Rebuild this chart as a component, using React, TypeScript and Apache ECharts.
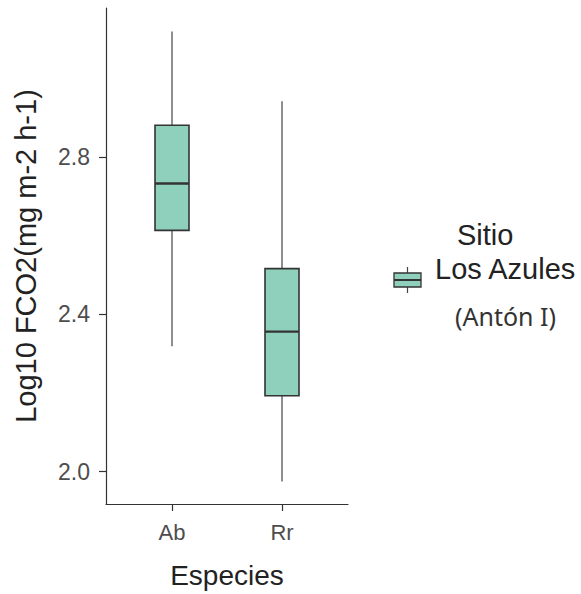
import React, { useEffect, useRef } from "react";
import * as echarts from "echarts";

const categories = ["Ab", "Rr"];
const categoryPositions = [1, 2];
const whiskerLow = [2.319, 1.975];
const q1 = [2.613, 2.193];
const medians = [2.732, 2.356];
const q3 = [2.88, 2.516];
const whiskerHigh = [3.118, 2.941];
const yTicks = [2.0, 2.4, 2.8];
const seriesName = "Los Azules";
const legendTitle = "Sitio";
const legendSubtitle = "(Antón I)";
const xTitle = "Especies";
const yTitle = "Log10 FCO2(mg m-2 h-1)";

const FONT = "'Liberation Sans', Arial, sans-serif";
const FILL = "#8ED0BB";
const DARK = "#333333";

export default function App() {
  const ref = useRef<HTMLDivElement>(null);
  useEffect(() => {
    const chart = echarts.init(ref.current!, null, { renderer: "svg" });
    const data = categoryPositions.map((x, i) => [
      x,
      whiskerLow[i],
      q1[i],
      medians[i],
      q3[i],
      whiskerHigh[i],
    ]);
    chart.setOption({
      animation: false,
      grid: { left: 106, right: 233, top: 8, bottom: 88, containLabel: false },
      xAxis: {
        type: "value",
        min: 0.4,
        max: 2.6,
        name: xTitle,
        nameLocation: "middle",
        nameGap: 57,
        nameTextStyle: { fontSize: 28, color: "#222", fontFamily: FONT },
        axisLine: { show: true, onZero: false, lineStyle: { color: DARK, width: 1.2 } },
        axisTick: {
          show: true,
          customValues: categoryPositions,
          length: 7,
          lineStyle: { color: DARK, width: 1.2 },
        },
        axisLabel: {
          customValues: categoryPositions,
          formatter: (v: number) => categories[Math.round(v) - 1] ?? "",
          fontSize: 22,
          color: "#4d4d4d",
          fontFamily: FONT,
          margin: 17,
        },
        splitLine: { show: false },
      },
      yAxis: {
        type: "value",
        min: 1.918,
        max: 3.178,
        name: yTitle,
        nameLocation: "middle",
        nameGap: 66,
        nameTextStyle: { fontSize: 29, color: "#222", fontFamily: FONT },
        axisLine: { show: true, onZero: false, lineStyle: { color: DARK, width: 1.2 } },
        axisTick: {
          show: true,
          customValues: yTicks,
          length: 7,
          lineStyle: { color: DARK, width: 1.2 },
        },
        axisLabel: {
          customValues: yTicks,
          formatter: (v: number) => v.toFixed(1),
          fontSize: 23,
          color: "#4d4d4d",
          fontFamily: FONT,
          margin: 16,
        },
        splitLine: { show: false },
      },
      series: [
        {
          name: seriesName,
          type: "custom",
          data,
          encode: { x: 0, y: [1, 2, 3, 4, 5] },
          renderItem: (params: any, api: any) => {
            const x = api.value(0);
            const lo = api.coord([x, api.value(1)]);
            const b1 = api.coord([x, api.value(2)]);
            const md = api.coord([x, api.value(3)]);
            const b3 = api.coord([x, api.value(4)]);
            const hi = api.coord([x, api.value(5)]);
            const c = lo[0];
            const hw = 17;
            return {
              type: "group",
              children: [
                {
                  type: "line",
                  shape: { x1: c, y1: lo[1], x2: c, y2: b1[1] },
                  style: { stroke: "#444", lineWidth: 1.2 },
                },
                {
                  type: "line",
                  shape: { x1: c, y1: b3[1], x2: c, y2: hi[1] },
                  style: { stroke: "#444", lineWidth: 1.2 },
                },
                {
                  type: "rect",
                  shape: { x: c - hw, y: b3[1], width: hw * 2, height: b1[1] - b3[1] },
                  style: { fill: FILL, stroke: DARK, lineWidth: 1.6 },
                },
                {
                  type: "line",
                  shape: { x1: c - hw, y1: md[1], x2: c + hw, y2: md[1] },
                  style: { stroke: DARK, lineWidth: 2.4 },
                },
              ],
            };
          },
        },
      ],
      graphic: [
        {
          type: "text",
          left: 457,
          top: 237 - 16.5,
          style: { text: legendTitle, fontSize: 29, fill: "#222", fontFamily: FONT },
        },
        {
          type: "line",
          shape: { x1: 407.5, y1: 267, x2: 407.5, y2: 293 },
          style: { stroke: "#444", lineWidth: 1.2 },
        },
        {
          type: "rect",
          shape: { x: 394, y: 273, width: 27, height: 14 },
          style: { fill: FILL, stroke: DARK, lineWidth: 1.3 },
        },
        {
          type: "line",
          shape: { x1: 394, y1: 280, x2: 421, y2: 280 },
          style: { stroke: DARK, lineWidth: 2 },
        },
        {
          type: "text",
          left: 435,
          top: 270.5 - 16.5,
          style: { text: seriesName, fontSize: 29, fill: "#222", fontFamily: FONT },
        },
        {
          type: "text",
          left: 455,
          top: 317.5 - 14.5,
          style: { text: legendSubtitle, fontSize: 25, fill: "#333", fontFamily: "'Noto Sans', sans-serif" },
        },
      ],
    });
    return () => chart.dispose();
  }, []);
  return (
    <div
      ref={ref}
      style={{ position: "fixed", left: 0, top: 0, width: 581, height: 594, background: "#fff" }}
    />
  );
}
